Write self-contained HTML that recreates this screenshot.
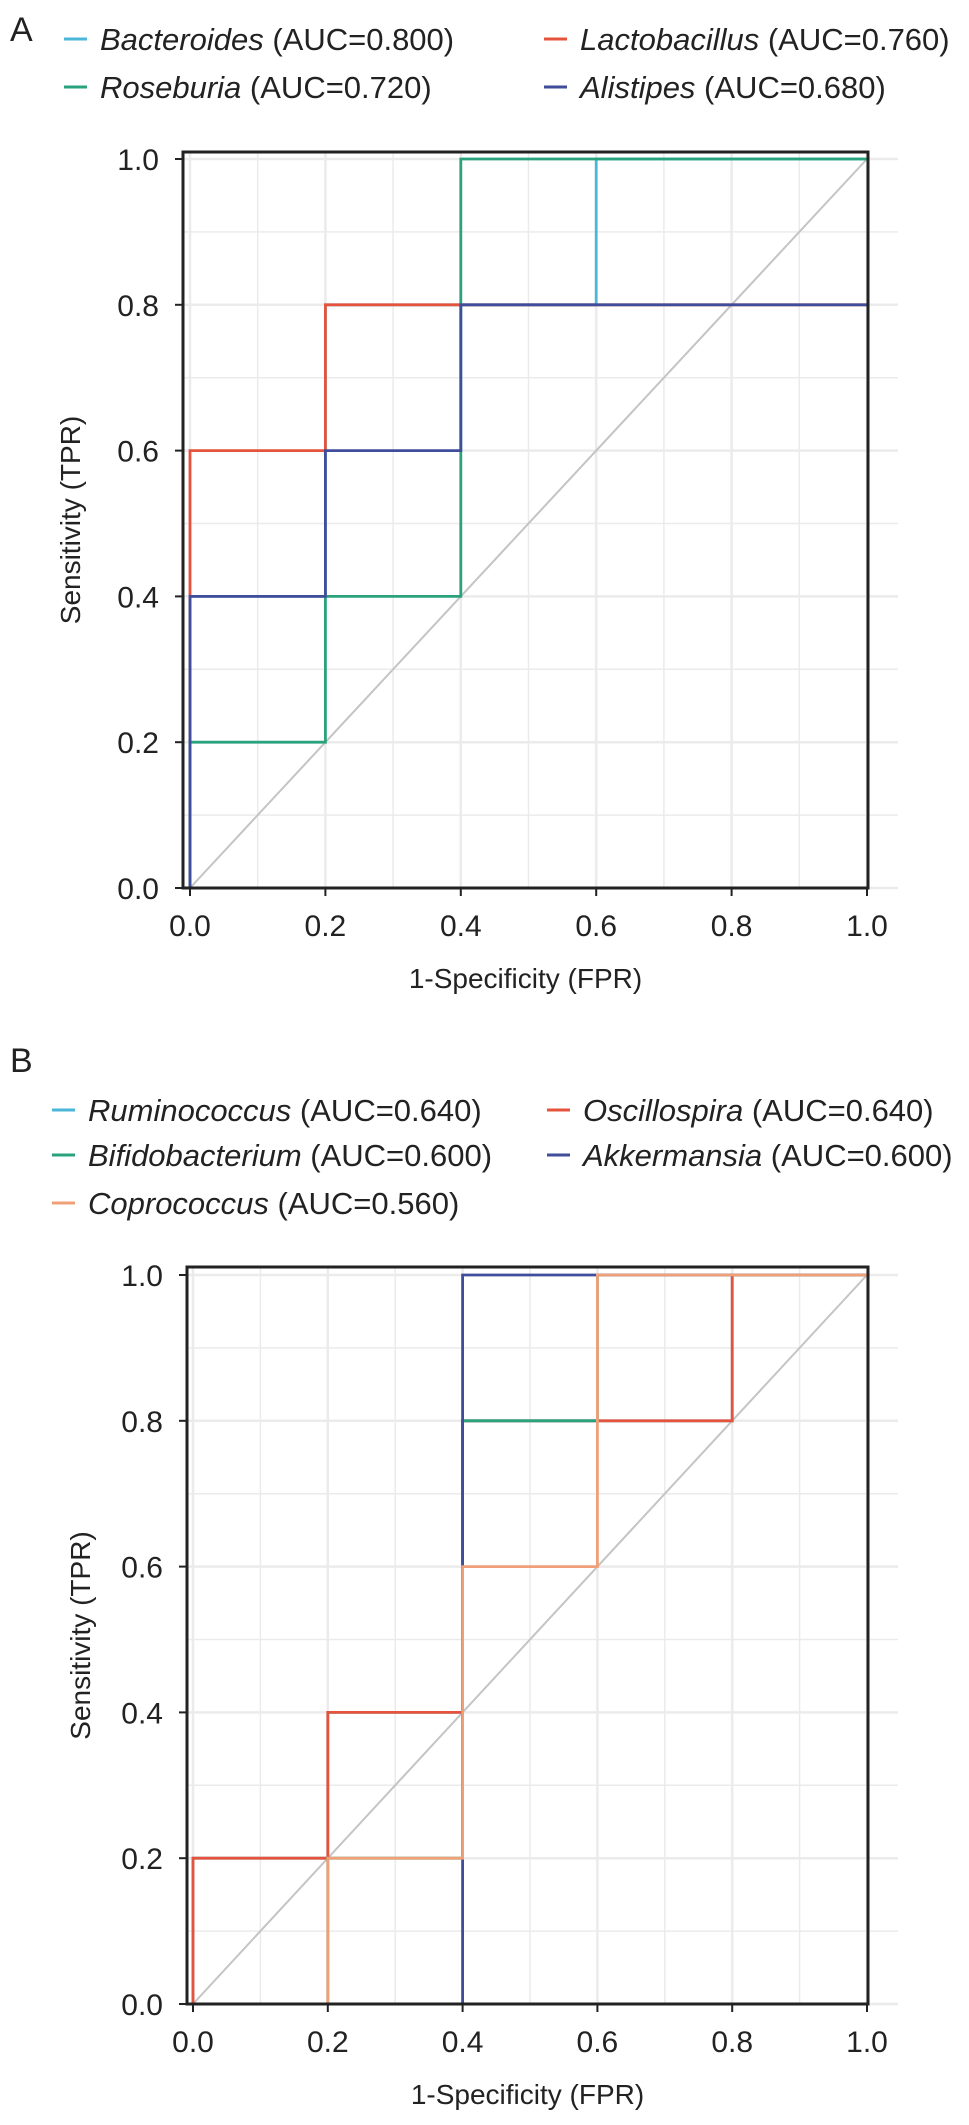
<!DOCTYPE html>
<html><head><meta charset="utf-8"><style>
body{margin:0;background:#fff;}
svg{display:block;font-family:"Liberation Sans",Arial,sans-serif;}
</style></head><body>
<svg id="c" width="969" height="2125" viewBox="0 0 969 2125" xmlns="http://www.w3.org/2000/svg"></svg>
<script>
const ticks = [0, 0.2, 0.4, 0.6, 0.8, 1.0];
const tickLabels = ["0.0","0.2","0.4","0.6","0.8","1.0"];
// Panel A series (FPR, TPR step points)
const aNames = ["Bacteroides","Lactobacillus","Roseburia","Alistipes"];
const aAUC = ["0.800","0.760","0.720","0.680"];
const aFPR = [[0,0,0.2,0.2,0.6,0.6,1],[0,0,0.2,0.2,1],[0,0,0.2,0.2,0.4,0.4,1],[0,0,0.2,0.2,0.4,0.4,1]];
const aTPR = [[0,0.4,0.4,0.8,0.8,1,1],[0,0.6,0.6,0.8,0.8],[0,0.2,0.2,0.4,0.4,1,1],[0,0.4,0.4,0.6,0.6,0.8,0.8]];
// Panel B series
const bNames = ["Ruminococcus","Oscillospira","Bifidobacterium","Akkermansia","Coprococcus"];
const bAUC = ["0.640","0.640","0.600","0.600","0.560"];
const bFPR = [[0,0,0.2,0.2,0.4,0.4,0.8,0.8,1],[0,0,0.2,0.2,0.4,0.4,0.8,0.8,1],[0,0.2,0.2,0.4,0.4,0.6,0.6,1],[0,0.4,0.4,1],[0,0.2,0.2,0.4,0.4,0.6,0.6,1]];
const bTPR = [[0,0.2,0.2,0.4,0.4,0.8,0.8,1,1],[0,0.2,0.2,0.4,0.4,0.8,0.8,1,1],[0,0,0.2,0.2,0.8,0.8,1,1],[0,0,1,1],[0,0,0.2,0.2,0.6,0.6,1,1]];

const NS="http://www.w3.org/2000/svg";
const svg=document.getElementById('c');
function mk(tag,attrs,parent){const e=document.createElementNS(NS,tag);for(const k in attrs)e.setAttribute(k,attrs[k]);(parent||svg).appendChild(e);return e;}

function panel(o){
  const g=mk('g',{});
  
  
  const sx=v=>o.x0+(o.x1-o.x0)*v, sy=v=>o.y0+(o.y1-o.y0)*v;
  for(let i=0;i<=10;i++){
    const v=i/10;
    const gl=mk('line',{x1:sx(v),x2:sx(v),y1:o.top,y2:o.bot,stroke:'#ebebeb','stroke-width':i%2?1.5:2.5},g);
    
    
    const gh=mk('line',{x1:o.left,x2:o.right+30,y1:sy(v),y2:sy(v),stroke:'#ebebeb','stroke-width':i%2?1.5:2.5},g);
    
    
  }
  const d=mk('line',{x1:sx(0),y1:sy(0),x2:sx(1),y2:sy(1),stroke:'#c4c4c4','stroke-width':2},g);
  
  
  o.fpr.forEach((xs,i)=>{
    const pts=xs.map((x,j)=>sx(x)+','+sy(o.tpr[i][j])).join(' ');
    const p=mk('polyline',{points:pts,fill:'none',stroke:o.colors[i],'stroke-width':2.8},g);
    
    
  });
  const f=mk('rect',{x:o.left,y:o.top,width:o.right-o.left,height:o.bot-o.top,fill:'none',stroke:'#222','stroke-width':3},g);
  
  
  ticks.forEach((v,i)=>{
    const ty=mk('text',{x:o.left-24,y:sy(v)+11,'text-anchor':'end','font-size':30,fill:'#222'},g);
    ty.textContent=tickLabels[i];
    
    
    mk('line',{x1:o.left-8,x2:o.left,y1:sy(v),y2:sy(v),stroke:'#222','stroke-width':2},g);
    const tx=mk('text',{x:sx(v),y:o.bot+48,'text-anchor':'middle','font-size':30,fill:'#222'},g);
    tx.textContent=tickLabels[i];
    
    
    mk('line',{x1:sx(v),x2:sx(v),y1:o.bot,y2:o.bot+8,stroke:'#222','stroke-width':2},g);
  });
  const xt=mk('text',{x:(o.left+o.right)/2,y:o.bot+100,'text-anchor':'middle','font-size':28,fill:'#222'},g);
  xt.textContent='1-Specificity (FPR)';
  
  
  const cy=(o.top+o.bot)/2;
  const yt=mk('text',{x:o.ytx,y:cy,'text-anchor':'middle','font-size':28,fill:'#222',transform:`rotate(-90 ${o.ytx} ${cy})`},g);
  yt.textContent='Sensitivity (TPR)';
  
  
  const pl=mk('text',{x:o.labX,y:o.labY,'font-size':34,fill:'#222'},g);
  pl.textContent=o.label;
  
  
  o.names.forEach((n,i)=>{
    const lx=o.leg[i][0], ly=o.leg[i][1];
    const le=mk('g',{},g);
    
    
    mk('line',{x1:lx,x2:lx+23,y1:ly,y2:ly,stroke:o.colors[i],'stroke-width':3},le);
    const t=mk('text',{x:lx+36,y:ly+11,'font-size':31,fill:'#222'},le);
    const it=mk('tspan',{'font-style':'italic'},t);it.textContent=n;
    const rt=mk('tspan',{},t);rt.textContent=' (AUC='+o.auc[i]+')';
  });
}
panel({id:'a',label:'A',labX:10,labY:41,left:183,right:868,top:152,bot:888,x0:190,x1:867,y0:888,y1:159,ytx:80,
  fpr:aFPR,tpr:aTPR,names:aNames,auc:aAUC,colors:['#4bb6d8','#e5533c','#2aa37d','#3f4d9a'],
  leg:[[64,39],[544,39],[64,87],[544,87]]});
panel({id:'b',label:'B',labX:10,labY:1072,left:187,right:868,top:1267,bot:2004,x0:193,x1:867,y0:2004,y1:1275,ytx:90,
  fpr:bFPR,tpr:bTPR,names:bNames,auc:bAUC,colors:['#4bb6d8','#e5533c','#2aa37d','#3f4d9a','#f0a078'],
  leg:[[52,1110],[547,1110],[52,1155],[547,1155],[52,1203]]});
</script>
</body></html>
